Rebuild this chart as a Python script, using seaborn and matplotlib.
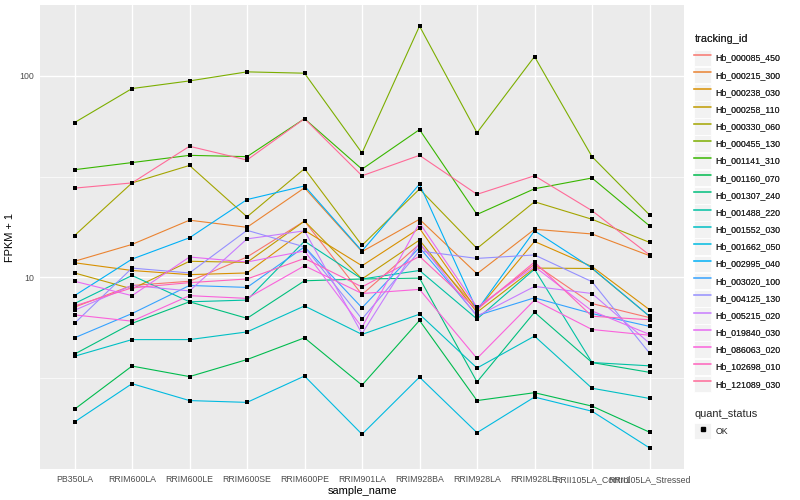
import numpy as np
import pandas as pd
import matplotlib
matplotlib.use("Agg")
import matplotlib.pyplot as plt
import seaborn as sns
from matplotlib.lines import Line2D
from matplotlib.patches import Rectangle
from matplotlib.legend_handler import HandlerTuple

samples = ["PB350LA", "RRIM600LA", "RRIM600LE", "RRIM600SE", "RRIM600PE", "RRIM901LA",
           "RRIM928BA", "RRIM928LA", "RRIM928LE", "RRII105LA_Control", "RRII105LA_Stressed"]

tracking_ids = ["Hb_000085_450", "Hb_000215_300", "Hb_000238_030", "Hb_000258_110",
                "Hb_000330_060", "Hb_000455_130", "Hb_001141_310", "Hb_001160_070",
                "Hb_001307_240", "Hb_001488_220", "Hb_001552_030", "Hb_001662_050",
                "Hb_002995_040", "Hb_003020_100", "Hb_004125_130", "Hb_005215_020",
                "Hb_019840_030", "Hb_086063_020", "Hb_102698_010", "Hb_121089_030"]

# FPKM + 1 per sample
hb_000085_450 = [7.1, 9.1, 9.55, 12.6, 19.0, 8.2, 14.6, 7.0, 11.6, 7.4, 6.3]
hb_000215_300 = [12.0, 14.55, 19.2, 17.7, 27.8, 13.4, 19.4, 10.4, 17.3, 16.4, 12.8]
hb_000238_030 = [11.8, 10.8, 10.3, 10.5, 17.1, 11.4, 17.5, 6.85, 15.05, 11.3, 6.9]
hb_000258_110 = [10.5, 8.75, 12.0, 11.85, 19.0, 9.8, 15.3, 6.7, 11.1, 11.05, 6.4]
hb_000330_060 = [16.1, 29.4, 35.9, 19.95, 34.6, 14.4, 27.4, 13.9, 23.7, 19.4, 14.9]
hb_000455_130 = [58.6, 86.5, 94.4, 104.7, 103.1, 41.4, 176.7, 52.2, 124.7, 39.7, 20.4]
hb_001141_310 = [34.2, 37.1, 40.3, 39.7, 61.3, 34.4, 54.1, 20.5, 27.5, 31.1, 18.0]
hb_001160_070 = [2.21, 3.62, 3.21, 3.9, 5.0, 2.91, 6.1, 2.44, 2.67, 2.29, 1.70]
hb_001307_240 = [4.15, 5.9, 7.55, 6.25, 9.6, 9.8, 9.9, 3.02, 6.7, 3.77, 3.37]
hb_001488_220 = [7.4, 10.2, 7.55, 7.7, 15.1, 9.8, 10.8, 6.2, 10.96, 3.77, 3.63]
hb_001552_030 = [4.05, 4.9, 4.9, 5.35, 7.2, 5.2, 6.55, 3.54, 5.1, 2.81, 2.50]
hb_001662_050 = [1.91, 2.96, 2.44, 2.39, 3.23, 1.66, 3.19, 1.69, 2.54, 2.16, 1.42]
hb_002995_040 = [8.1, 12.3, 15.7, 24.3, 28.4, 13.5, 29.0, 6.85, 17.0, 11.1, 6.4]
hb_003020_100 = [5.0, 6.6, 9.1, 8.9, 14.15, 7.05, 14.05, 6.45, 7.9, 6.6, 5.7]
hb_004125_130 = [5.9, 11.1, 10.5, 17.1, 14.15, 6.2, 13.5, 12.4, 12.9, 9.5, 4.2]
hb_005215_020 = [6.85, 9.1, 8.55, 15.5, 17.0, 5.25, 14.85, 6.4, 9.0, 8.3, 4.7]
hb_019840_030 = [9.55, 8.1, 12.6, 11.9, 13.5, 5.65, 18.6, 7.1, 11.3, 6.8, 5.2]
hb_086063_020 = [6.5, 6.05, 8.1, 7.85, 11.4, 8.3, 8.7, 3.95, 7.7, 5.5, 5.15]
hb_102698_010 = [7.2, 8.85, 9.4, 9.8, 12.4, 8.95, 12.7, 6.9, 11.9, 6.4, 6.15]
hb_121089_030 = [27.7, 29.4, 44.7, 38.2, 61.3, 31.9, 40.3, 25.8, 31.9, 21.4, 12.9]

series = [hb_000085_450, hb_000215_300, hb_000238_030, hb_000258_110, hb_000330_060,
          hb_000455_130, hb_001141_310, hb_001160_070, hb_001307_240, hb_001488_220,
          hb_001552_030, hb_001662_050, hb_002995_040, hb_003020_100, hb_004125_130,
          hb_005215_020, hb_019840_030, hb_086063_020, hb_102698_010, hb_121089_030]

rows = []
for tid, vals in zip(tracking_ids, series):
    for s, v in zip(samples, vals):
        rows.append({"tracking_id": tid, "sample_name": s, "fpkm1": v, "quant_status": "OK"})
df = pd.DataFrame(rows)


def hcl_hex(h, c=100.0, l=65.0):
    # ggplot's default hue palette (polar LUV -> sRGB)
    hr = np.deg2rad(h)
    u, v = c * np.cos(hr), c * np.sin(hr)
    xn, yn, zn = 95.047, 100.0, 108.883
    y = yn * ((l + 16) / 116) ** 3
    un = 4 * xn / (xn + 15 * yn + 3 * zn)
    vn = 9 * yn / (xn + 15 * yn + 3 * zn)
    up = u / (13 * l) + un
    vp = v / (13 * l) + vn
    x = 9 * y * up / (4 * vp)
    z = y * (12 - 3 * up - 20 * vp) / (4 * vp)
    m = np.array([[3.2406, -1.5372, -0.4986],
                  [-0.9689, 1.8758, 0.0415],
                  [0.0557, -0.2040, 1.0570]])
    rgb = np.clip(m @ (np.array([x, y, z]) / 100), 0, 1)
    rgb = np.where(rgb <= 0.0031308, 12.92 * rgb, 1.055 * rgb ** (1 / 2.4) - 0.055)
    return matplotlib.colors.to_hex(np.clip(rgb, 0, 1))


n = len(tracking_ids)
palette = [hcl_hex(15 + 360 * i / n) for i in range(n)]

sns.set_theme(style="darkgrid", rc={
    "axes.facecolor": "#EBEBEB",
    "grid.color": "white",
    "axes.edgecolor": "none",
})
plt.rcParams["font.family"] = ["Liberation Sans", "DejaVu Sans"]

fig = plt.figure(figsize=(8, 5), dpi=100)
ax = fig.add_axes([0.05, 0.062, 0.805, 0.928])

sns.lineplot(data=df, x="sample_name", y="fpkm1", hue="tracking_id", palette=palette,
             hue_order=tracking_ids, sort=False, linewidth=0.8, legend=False, ax=ax)
sns.scatterplot(data=df, x="sample_name", y="fpkm1", color="black", marker="s",
                s=5, linewidth=0, legend=False, ax=ax, zorder=5)

ax.set_yscale("log")
lo, hi = np.log10(df["fpkm1"].min()), np.log10(df["fpkm1"].max())
pad = 0.05 * (hi - lo)
ax.set_ylim(10 ** (lo - pad), 10 ** (hi + pad))
ax.set_xlim(-0.6, len(samples) - 0.4)

ax.set_yticks([10, 100])
ax.set_yticklabels(["10", "100"])
ax.set_yticks([10 ** 0.5, 10 ** 1.5], minor=True)
ax.yaxis.set_minor_formatter(matplotlib.ticker.NullFormatter())
ax.grid(True, which="major", color="white", linewidth=1.0)
ax.grid(True, which="minor", axis="y", color="white", linewidth=0.5)
ax.tick_params(axis="both", which="major", length=2.5, width=0.6, color="#333333",
               labelsize=6.3, labelcolor="#4D4D4D", pad=2)
ax.tick_params(axis="y", which="minor", length=0)
for sp in ax.spines.values():
    sp.set_visible(False)

ax.set_xlabel("sample_name", fontsize=7.9, color="black", labelpad=1)
ax.set_ylabel("FPKM + 1", fontsize=7.9, color="black", labelpad=3)

# legends, ggplot style with grey keys
hmap = {tuple: HandlerTuple(ndivide=1, pad=0)}
key_handles = []
for c in palette:
    box = Rectangle((0, 0), 1, 1, facecolor="#F2F2F2", edgecolor="white", linewidth=0.6, zorder=0)
    ln = Line2D([], [], color=c, linewidth=1.1, zorder=3)
    key_handles.append((box, ln))
leg1 = fig.legend(key_handles, tracking_ids, title="tracking_id", loc="upper left",
                  bbox_to_anchor=(0.868, 0.932), frameon=False, fontsize=6.3,
                  title_fontsize=7.9, handlelength=1.95, handleheight=2.55,
                  labelspacing=0.06, handletextpad=0.45, borderpad=0, borderaxespad=0,
                  alignment="left", handler_map=hmap)
leg1._legend_box.sep = 4
fig.add_artist(leg1)

ok_box = Rectangle((0, 0), 1, 1, facecolor="#F2F2F2", edgecolor="white", linewidth=0.6, zorder=0)
ok_pt = Line2D([], [], color="black", marker="s", markersize=2.4, linestyle="none", zorder=3)
fig.legend([(ok_box, ok_pt)], ["OK"], title="quant_status", loc="upper left",
           bbox_to_anchor=(0.868, 0.182), frameon=False, fontsize=6.3, title_fontsize=7.9,
           handlelength=1.95, handleheight=2.45, handletextpad=0.45, borderpad=0,
           borderaxespad=0, alignment="left", handler_map=hmap)

fig.savefig("out.png", dpi=100, facecolor="white")
